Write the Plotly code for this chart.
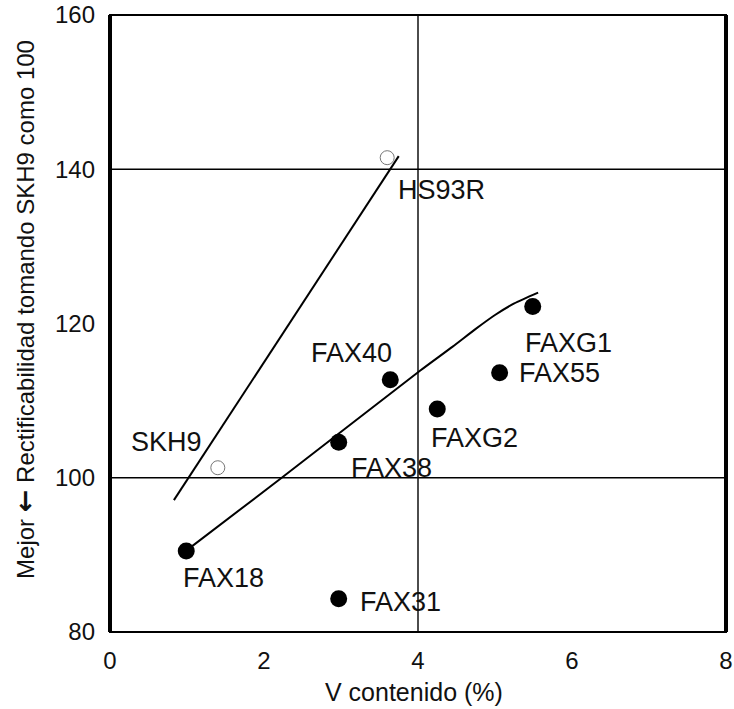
import plotly.graph_objects as go

# Data
open_names = ["SKH9", "HS93R"]
open_x = [1.40, 3.60]
open_y = [101.3, 141.5]

solid_names = ["FAX18", "FAX31", "FAX38", "FAX40", "FAXG2", "FAX55", "FAXG1"]
solid_x = [0.99, 2.97, 2.97, 3.64, 4.25, 5.06, 5.49]
solid_y = [90.5, 84.3, 104.6, 112.7, 108.9, 113.6, 122.2]

line1_x = [0.83, 3.75]
line1_y = [97.1, 141.7]

line2_x = [1.05, 2.23, 4.03, 4.45, 4.75, 5.00, 5.25, 5.56]
line2_y = [91.0, 100.0, 113.9, 117.0, 119.3, 121.1, 122.6, 124.0]

# label anchor positions (data coords)
label_names = ["HS93R", "SKH9", "FAX40", "FAX38", "FAXG2", "FAX55", "FAXG1", "FAX18", "FAX31"]
label_x = [4.30, 0.73, 3.13, 3.65, 4.74, 5.84, 5.96, 1.48, 3.77]
label_y = [137.3, 104.6, 116.2, 101.3, 105.2, 113.6, 117.5, 87.0, 83.9]

grid_x = [4]
grid_y = [100, 140]

x_ticks = [0, 2, 4, 6, 8]
y_ticks = [80, 100, 120, 140, 160]

x_title = "V contenido (%)"
y_title = ("Mejor <span style=\"font-family:DejaVu Sans;font-size:27px\"><b>\u2190</b></span> "
           "Rectificabilidad tomando SKH9 como 100")

FONT = "Liberation Sans, Arial, sans-serif"

fig = go.Figure()

fig.add_trace(go.Scatter(x=line1_x, y=line1_y, mode="lines",
                         line=dict(color="black", width=2), showlegend=False))
fig.add_trace(go.Scatter(x=line2_x, y=line2_y, mode="lines",
                         line=dict(color="black", width=2, shape="spline", smoothing=0.6),
                         showlegend=False))
fig.add_trace(go.Scatter(x=open_x, y=open_y, mode="markers",
                         marker=dict(symbol="circle", size=14, color="white",
                                     line=dict(color="#777", width=1)),
                         showlegend=False))
fig.add_trace(go.Scatter(x=solid_x, y=solid_y, mode="markers",
                         marker=dict(symbol="circle", size=17, color="black"),
                         showlegend=False))

for n, x, y in zip(label_names, label_x, label_y):
    fig.add_annotation(x=x, y=y, text=n, showarrow=False,
                       font=dict(family=FONT, size=27, color="#111"))

# axis titles as annotations for precise placement
fig.add_annotation(xref="paper", yref="paper", x=0.494, y=0, yanchor="middle",
                   yshift=-60, text=x_title, showarrow=False,
                   font=dict(family=FONT, size=25, color="#111"))
fig.add_annotation(xref="paper", yref="paper", x=0, y=0.522, xanchor="center",
                   xshift=-85, textangle=-90, text=y_title, showarrow=False,
                   font=dict(family=FONT, size=24, color="#111"))

for gx in grid_x:
    fig.add_shape(type="line", xref="x", yref="paper", x0=gx, x1=gx, y0=0, y1=1,
                  line=dict(color="black", width=1.4), layer="below")
for gy in grid_y:
    fig.add_shape(type="line", xref="paper", yref="y", x0=0, x1=1, y0=gy, y1=gy,
                  line=dict(color="black", width=1.4), layer="below")

# frame
fig.add_shape(type="rect", xref="paper", yref="paper", x0=0, x1=1, y0=0, y1=1,
              line=dict(color="black", width=2), layer="above")
fig.add_shape(type="line", xref="paper", yref="paper", x0=0, x1=0, y0=0, y1=1,
              line=dict(color="black", width=4), layer="above")
fig.add_shape(type="line", xref="paper", yref="paper", x0=1, x1=1, y0=0, y1=1,
              line=dict(color="black", width=4), layer="above")

fig.update_layout(
    width=734, height=709,
    margin=dict(l=110, r=8, t=15, b=77, autoexpand=False),
    plot_bgcolor="white", paper_bgcolor="white",
    font=dict(family=FONT, size=24, color="#111"),
    xaxis=dict(range=[0, 8], tickvals=x_ticks, showgrid=False, zeroline=False,
               showline=False, ticks="", ticklabelstandoff=12, automargin=False),
    yaxis=dict(range=[80, 160], tickvals=y_ticks, showgrid=False, zeroline=False,
               showline=False, ticks="", ticklabelstandoff=14, automargin=False),
)

fig.write_html("out.html")
